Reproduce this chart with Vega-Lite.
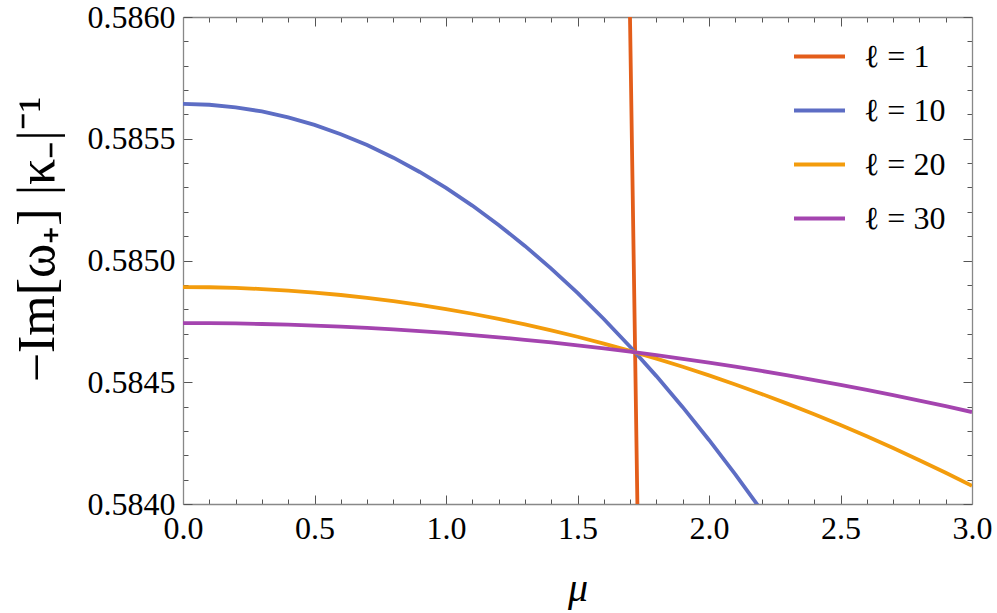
{
  "$schema": "https://vega.github.io/schema/vega-lite/v6.json",
  "width": 789,
  "height": 487,
  "autosize": {"type": "none"},
  "padding": {"left": 183, "top": 17, "right": 25, "bottom": 109},
  "background": "white",
  "data": {
    "values": [
      {"mu": 1.699, "val": 0.586045, "l": "ℓ = 1"},
      {"mu": 1.700, "val": 0.58597, "l": "ℓ = 1"},
      {"mu": 1.710, "val": 0.585266, "l": "ℓ = 1"},
      {"mu": 1.719, "val": 0.584626, "l": "ℓ = 1"},
      {"mu": 1.728, "val": 0.58398, "l": "ℓ = 1"},
      {"mu": 1.729, "val": 0.58391, "l": "ℓ = 1"},
      {"mu": 0.0, "val": 0.585643, "l": "ℓ = 10"},
      {"mu": 0.1, "val": 0.5856396, "l": "ℓ = 10"},
      {"mu": 0.2, "val": 0.5856292, "l": "ℓ = 10"},
      {"mu": 0.3, "val": 0.585612, "l": "ℓ = 10"},
      {"mu": 0.4, "val": 0.5855878, "l": "ℓ = 10"},
      {"mu": 0.5, "val": 0.5855568, "l": "ℓ = 10"},
      {"mu": 0.6, "val": 0.5855188, "l": "ℓ = 10"},
      {"mu": 0.7, "val": 0.585474, "l": "ℓ = 10"},
      {"mu": 0.8, "val": 0.5854222, "l": "ℓ = 10"},
      {"mu": 0.9, "val": 0.5853636, "l": "ℓ = 10"},
      {"mu": 1.0, "val": 0.585298, "l": "ℓ = 10"},
      {"mu": 1.1, "val": 0.5852256, "l": "ℓ = 10"},
      {"mu": 1.2, "val": 0.5851462, "l": "ℓ = 10"},
      {"mu": 1.3, "val": 0.58506, "l": "ℓ = 10"},
      {"mu": 1.4, "val": 0.5849668, "l": "ℓ = 10"},
      {"mu": 1.5, "val": 0.5848668, "l": "ℓ = 10"},
      {"mu": 1.6, "val": 0.5847598, "l": "ℓ = 10"},
      {"mu": 1.7, "val": 0.584646, "l": "ℓ = 10"},
      {"mu": 1.8, "val": 0.5845252, "l": "ℓ = 10"},
      {"mu": 1.9, "val": 0.5843976, "l": "ℓ = 10"},
      {"mu": 2.0, "val": 0.584263, "l": "ℓ = 10"},
      {"mu": 2.1, "val": 0.5841216, "l": "ℓ = 10"},
      {"mu": 2.2, "val": 0.5839732, "l": "ℓ = 10"},
      {"mu": 0.0, "val": 0.584891, "l": "ℓ = 20"},
      {"mu": 0.1, "val": 0.5848901, "l": "ℓ = 20"},
      {"mu": 0.2, "val": 0.5848874, "l": "ℓ = 20"},
      {"mu": 0.3, "val": 0.5848828, "l": "ℓ = 20"},
      {"mu": 0.4, "val": 0.5848765, "l": "ℓ = 20"},
      {"mu": 0.5, "val": 0.5848683, "l": "ℓ = 20"},
      {"mu": 0.6, "val": 0.5848583, "l": "ℓ = 20"},
      {"mu": 0.7, "val": 0.5848466, "l": "ℓ = 20"},
      {"mu": 0.8, "val": 0.584833, "l": "ℓ = 20"},
      {"mu": 0.9, "val": 0.5848175, "l": "ℓ = 20"},
      {"mu": 1.0, "val": 0.5848003, "l": "ℓ = 20"},
      {"mu": 1.1, "val": 0.5847813, "l": "ℓ = 20"},
      {"mu": 1.2, "val": 0.5847604, "l": "ℓ = 20"},
      {"mu": 1.3, "val": 0.5847377, "l": "ℓ = 20"},
      {"mu": 1.4, "val": 0.5847132, "l": "ℓ = 20"},
      {"mu": 1.5, "val": 0.5846869, "l": "ℓ = 20"},
      {"mu": 1.6, "val": 0.5846588, "l": "ℓ = 20"},
      {"mu": 1.7, "val": 0.5846289, "l": "ℓ = 20"},
      {"mu": 1.8, "val": 0.5845971, "l": "ℓ = 20"},
      {"mu": 1.9, "val": 0.5845636, "l": "ℓ = 20"},
      {"mu": 2.0, "val": 0.5845282, "l": "ℓ = 20"},
      {"mu": 2.1, "val": 0.584491, "l": "ℓ = 20"},
      {"mu": 2.2, "val": 0.584452, "l": "ℓ = 20"},
      {"mu": 2.3, "val": 0.5844112, "l": "ℓ = 20"},
      {"mu": 2.4, "val": 0.5843686, "l": "ℓ = 20"},
      {"mu": 2.5, "val": 0.5843241, "l": "ℓ = 20"},
      {"mu": 2.6, "val": 0.5842779, "l": "ℓ = 20"},
      {"mu": 2.7, "val": 0.5842298, "l": "ℓ = 20"},
      {"mu": 2.8, "val": 0.5841799, "l": "ℓ = 20"},
      {"mu": 2.9, "val": 0.5841282, "l": "ℓ = 20"},
      {"mu": 3.0, "val": 0.5840747, "l": "ℓ = 20"},
      {"mu": 0.0, "val": 0.584743, "l": "ℓ = 30"},
      {"mu": 0.1, "val": 0.5847426, "l": "ℓ = 30"},
      {"mu": 0.2, "val": 0.5847414, "l": "ℓ = 30"},
      {"mu": 0.3, "val": 0.5847393, "l": "ℓ = 30"},
      {"mu": 0.4, "val": 0.5847365, "l": "ℓ = 30"},
      {"mu": 0.5, "val": 0.5847328, "l": "ℓ = 30"},
      {"mu": 0.6, "val": 0.5847284, "l": "ℓ = 30"},
      {"mu": 0.7, "val": 0.5847231, "l": "ℓ = 30"},
      {"mu": 0.8, "val": 0.584717, "l": "ℓ = 30"},
      {"mu": 0.9, "val": 0.5847101, "l": "ℓ = 30"},
      {"mu": 1.0, "val": 0.5847024, "l": "ℓ = 30"},
      {"mu": 1.1, "val": 0.5846939, "l": "ℓ = 30"},
      {"mu": 1.2, "val": 0.5846845, "l": "ℓ = 30"},
      {"mu": 1.3, "val": 0.5846744, "l": "ℓ = 30"},
      {"mu": 1.4, "val": 0.5846634, "l": "ℓ = 30"},
      {"mu": 1.5, "val": 0.5846516, "l": "ℓ = 30"},
      {"mu": 1.6, "val": 0.5846391, "l": "ℓ = 30"},
      {"mu": 1.7, "val": 0.5846257, "l": "ℓ = 30"},
      {"mu": 1.8, "val": 0.5846115, "l": "ℓ = 30"},
      {"mu": 1.9, "val": 0.5845964, "l": "ℓ = 30"},
      {"mu": 2.0, "val": 0.5845806, "l": "ℓ = 30"},
      {"mu": 2.1, "val": 0.584564, "l": "ℓ = 30"},
      {"mu": 2.2, "val": 0.5845465, "l": "ℓ = 30"},
      {"mu": 2.3, "val": 0.5845282, "l": "ℓ = 30"},
      {"mu": 2.4, "val": 0.5845091, "l": "ℓ = 30"},
      {"mu": 2.5, "val": 0.5844892, "l": "ℓ = 30"},
      {"mu": 2.6, "val": 0.5844685, "l": "ℓ = 30"},
      {"mu": 2.7, "val": 0.584447, "l": "ℓ = 30"},
      {"mu": 2.8, "val": 0.5844247, "l": "ℓ = 30"},
      {"mu": 2.9, "val": 0.5844016, "l": "ℓ = 30"},
      {"mu": 3.0, "val": 0.5843776, "l": "ℓ = 30"}
    ]
  },
  "layer": [
    {
      "mark": {"type": "line", "strokeWidth": 3.8, "clip": true},
      "encoding": {
        "x": {
          "field": "mu", "type": "quantitative",
          "scale": {"domain": [0, 3], "nice": false, "zero": false},
          "axis": {
            "orient": "bottom",
            "values": [0,0.1,0.2,0.3,0.4,0.5,0.6,0.7,0.8,0.9,1,1.1,1.2,1.3,1.4,1.5,1.6,1.7,1.8,1.9,2,2.1,2.2,2.3,2.4,2.5,2.6,2.7,2.8,2.9,3],
            "labelExpr": "abs(datum.value*2 - round(datum.value*2)) < 0.001 ? format(datum.value, '.1f') : ''",
            "labelFlush": false,
            "labelOverlap": false,
            "labelFont": "Liberation Serif",
            "labelFontSize": 32,
            "tickSize": {"condition": {"test": "abs(datum.value*2 - round(datum.value*2)) < 0.001", "value": -9}, "value": -5},
            "labelPadding": 18,
            "title": "μ",
            "titleFont": "Liberation Serif",
            "titleFontStyle": "italic",
            "titleFontSize": 40,
            "titleX": 394.5,
            "titleY": 96,
            "titleBaseline": "alphabetic",
            "titleAlign": "center"
          }
        },
        "y": {
          "field": "val", "type": "quantitative",
          "scale": {"domain": [0.584, 0.586], "nice": false, "zero": false},
          "axis": {
            "orient": "left",
            "values": [0.584,0.5841,0.5842,0.5843,0.5844,0.5845,0.5846,0.5847,0.5848,0.5849,0.585,0.5851,0.5852,0.5853,0.5854,0.5855,0.5856,0.5857,0.5858,0.5859,0.586],
            "labelExpr": "abs(datum.value*2000 - round(datum.value*2000)) < 0.001 ? format(datum.value, '.4f') : ''",
            "labelFlush": false,
            "labelOverlap": false,
            "labelFont": "Liberation Serif",
            "labelFontSize": 32,
            "tickSize": {"condition": {"test": "abs(datum.value*2000 - round(datum.value*2000)) < 0.001", "value": -9}, "value": -5},
            "labelPadding": 17,
            "title": "−Im[ω₊]  |κ₋|⁻¹",
            "titleFont": "Liberation Serif",
            "titleFontSize": 52,
            "titleAngle": -90,
            "titleX": -146,
            "titleY": 222,
            "titleBaseline": "middle",
            "titleAlign": "center"
          }
        },
        "color": {
          "field": "l", "type": "nominal",
          "scale": {"domain": ["ℓ = 1", "ℓ = 10", "ℓ = 20", "ℓ = 30"], "range": ["#E35D1A", "#5D6DC4", "#F39C0C", "#A444AF"]},
          "legend": {
            "orient": "none",
            "legendX": 609,
            "legendY": 12,
            "title": null,
            "symbolType": "stroke",
            "symbolSize": 2601,
            "symbolStrokeWidth": 4,
            "labelFont": "Liberation Serif",
            "labelFontSize": 32,
            "labelColor": "black",
            "labelOffset": 17,
            "rowPadding": 10,
            "padding": 0
          }
        }
      }
    },
    {
      "mark": {"type": "line", "opacity": 0, "clip": true},
      "encoding": {
        "x": {
          "field": "mu", "type": "quantitative",
          "axis": {
            "orient": "top",
            "values": [0,0.1,0.2,0.3,0.4,0.5,0.6,0.7,0.8,0.9,1,1.1,1.2,1.3,1.4,1.5,1.6,1.7,1.8,1.9,2,2.1,2.2,2.3,2.4,2.5,2.6,2.7,2.8,2.9,3],
            "labels": false,
            "title": null,
            "tickSize": {"condition": {"test": "abs(datum.value*2 - round(datum.value*2)) < 0.001", "value": -9}, "value": -5}
          }
        },
        "y": {
          "field": "val", "type": "quantitative",
          "axis": {
            "orient": "right",
            "values": [0.584,0.5841,0.5842,0.5843,0.5844,0.5845,0.5846,0.5847,0.5848,0.5849,0.585,0.5851,0.5852,0.5853,0.5854,0.5855,0.5856,0.5857,0.5858,0.5859,0.586],
            "labels": false,
            "title": null,
            "tickSize": {"condition": {"test": "abs(datum.value*2000 - round(datum.value*2000)) < 0.001", "value": -9}, "value": -5}
          }
        },
        "detail": {"field": "l", "type": "nominal"}
      }
    }
  ],
  "resolve": {"axis": {"x": "independent", "y": "independent"}},
  "config": {
    "font": "Liberation Serif",
    "view": {"stroke": null},
    "axis": {
      "grid": false,
      "domainColor": "#888888",
      "domainWidth": 1.3,
      "tickColor": "#555555",
      "tickWidth": 1,
      "labelColor": "black",
      "titleColor": "black",
      "titleFontWeight": "normal"
    }
  }
}
